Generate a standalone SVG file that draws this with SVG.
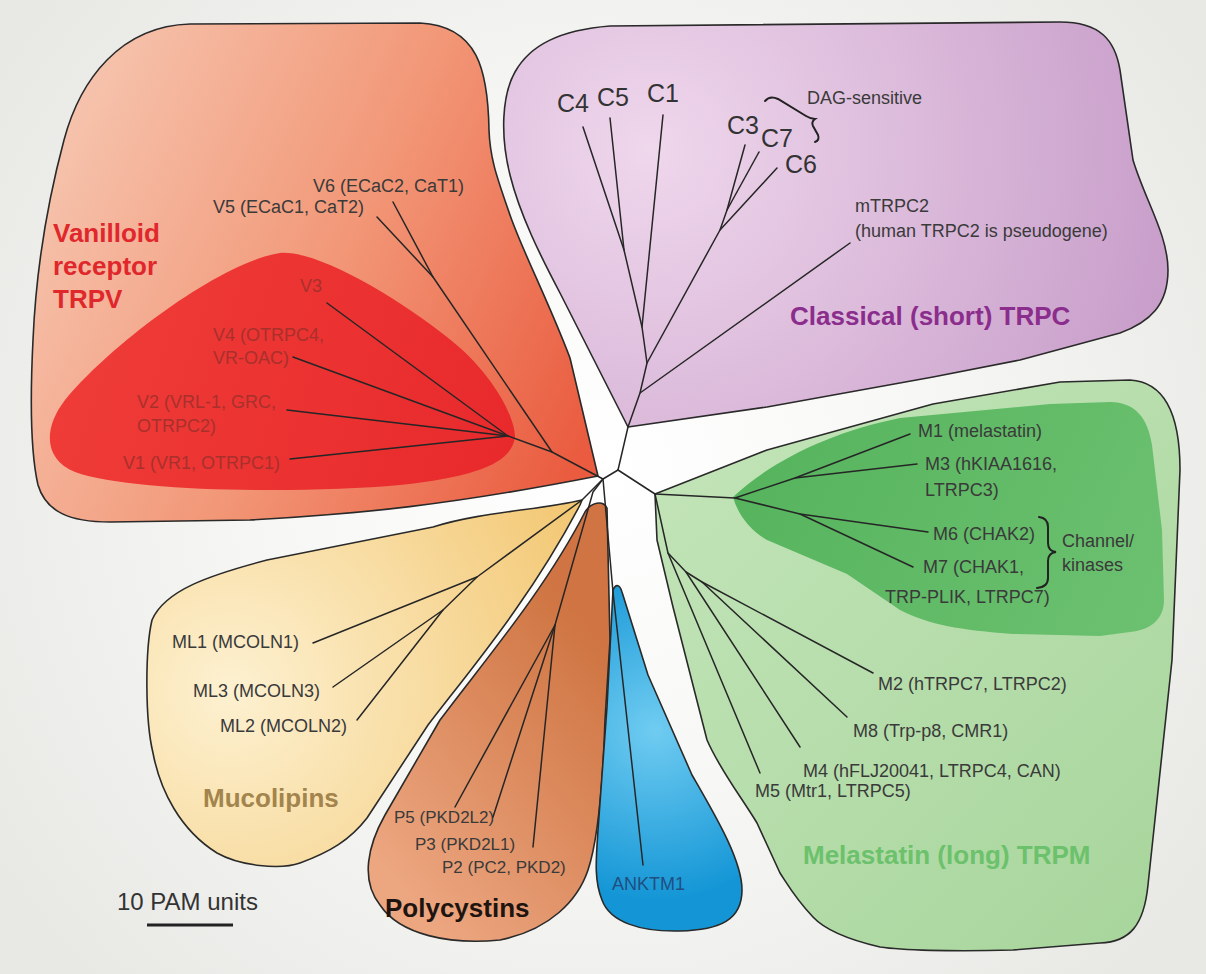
<svg xmlns="http://www.w3.org/2000/svg" width="1206" height="974" viewBox="0 0 1206 974">
<defs>
  <radialGradient id="bg" cx="600" cy="470" r="720" gradientUnits="userSpaceOnUse">
    <stop offset="0" stop-color="#ffffff"/>
    <stop offset="0.45" stop-color="#f7f7f5"/>
    <stop offset="1" stop-color="#e8e8e5"/>
  </radialGradient>
  <linearGradient id="gV" x1="40" y1="150" x2="600" y2="420" gradientUnits="userSpaceOnUse">
    <stop offset="0" stop-color="#f6c4ae"/>
    <stop offset="0.5" stop-color="#f29878"/>
    <stop offset="1" stop-color="#ea5b3f"/>
  </linearGradient>
  <linearGradient id="gVin" x1="60" y1="300" x2="520" y2="460" gradientUnits="userSpaceOnUse">
    <stop offset="0" stop-color="#ef3d38"/>
    <stop offset="1" stop-color="#e8292c"/>
  </linearGradient>
  <radialGradient id="gC" cx="650" cy="150" r="560" gradientUnits="userSpaceOnUse">
    <stop offset="0" stop-color="#efd7ec"/>
    <stop offset="1" stop-color="#c69bc8"/>
  </radialGradient>
  <linearGradient id="gM" x1="660" y1="400" x2="1180" y2="940" gradientUnits="userSpaceOnUse">
    <stop offset="0" stop-color="#c4e5ba"/>
    <stop offset="1" stop-color="#a7d59b"/>
  </linearGradient>
  <linearGradient id="gMin" x1="740" y1="420" x2="1160" y2="620" gradientUnits="userSpaceOnUse">
    <stop offset="0" stop-color="#55b35c"/>
    <stop offset="1" stop-color="#6cc170"/>
  </linearGradient>
  <radialGradient id="gML" cx="230" cy="690" r="420" gradientUnits="userSpaceOnUse">
    <stop offset="0" stop-color="#fdf1d1"/>
    <stop offset="1" stop-color="#f2c46c"/>
  </radialGradient>
  <linearGradient id="gP" x1="370" y1="850" x2="610" y2="650" gradientUnits="userSpaceOnUse">
    <stop offset="0" stop-color="#eca680"/>
    <stop offset="1" stop-color="#cf7442"/>
  </linearGradient>
  <radialGradient id="gA" cx="655" cy="730" r="170" gradientUnits="userSpaceOnUse">
    <stop offset="0" stop-color="#70ccf1"/>
    <stop offset="1" stop-color="#1496d6"/>
  </radialGradient>
</defs>
<style>
  .out{stroke:#2a2a2a;stroke-width:1.6;stroke-linejoin:round}
  .inner{stroke:none}
  .br{fill:none;stroke:#262626;stroke-width:1.5;stroke-linecap:round;stroke-linejoin:round}
  .brace{fill:none;stroke:#222;stroke-width:2;stroke-linecap:round}
  text{font-family:"Liberation Sans",Arial,Helvetica,sans-serif}
  .lb{font-size:18px;fill:#3a3a3a}
  .lbs{font-size:17px;fill:#3a3a3a}
  .lbr{font-size:18px;fill:#a8302c}
  .c{font-size:25px;fill:#333}
  .t{font-size:26px;font-weight:bold}
</style>
<rect x="0" y="0" width="1206" height="974" fill="url(#bg)"/>

<g id="trpv">
  <path class="out" fill="url(#gV)" d="M598,476 L570,358 C548,300 522,250 510,215 C498,180 490,160 489,130 C488,70 478,26 420,23 L190,24 C120,26 80,80 64,140 C48,200 36,270 33,340 C30,400 30,450 38,485 C46,512 70,522 110,522 L250,520 C360,514 450,505 598,476 Z"/>
  <path class="inner" fill="url(#gVin)" d="M280,253 C320,250 400,300 447,337 C490,370 515,415 515,437 C512,462 480,476 400,485 C300,494 130,492 75,472 C45,460 42,430 65,400 C110,345 220,262 280,253 Z"/>
  <text class="t" fill="#e0272c" x="53" y="242">Vanilloid</text>
  <text class="t" fill="#e0272c" x="53" y="275">receptor</text>
  <text class="t" fill="#e0272c" x="53" y="308">TRPV</text>
  <text class="lb" x="313" y="192">V6 (ECaC2, CaT1)</text>
  <text class="lb" x="213" y="213">V5 (ECaC1, CaT2)</text>
  <text class="lbr" x="300" y="292">V3</text>
  <text class="lbr" x="213" y="341">V4 (OTRPC4,</text>
  <text class="lbr" x="213" y="364">VR-OAC)</text>
  <text class="lbr" x="137" y="408">V2 (VRL-1, GRC,</text>
  <text class="lbr" x="137" y="432">OTRPC2)</text>
  <text class="lbr" x="123" y="469">V1 (VR1, OTRPC1)</text>
</g>

<g id="trpc">
  <path class="out" fill="url(#gC)" d="M628,427 L560,293 C540,255 520,215 510,175 C500,135 502,95 515,72 C530,45 560,30 610,26 L1060,22 C1100,22 1115,40 1120,70 L1133,160 C1145,200 1168,235 1168,270 C1168,305 1150,322 1120,333 L1020,360 L933,377 L767,407 Z"/>
  <text class="c" x="557" y="112">C4</text>
  <text class="c" x="597" y="106">C5</text>
  <text class="c" x="647" y="102">C1</text>
  <text class="c" x="727" y="134">C3</text>
  <text class="c" x="761" y="147">C7</text>
  <text class="c" x="785" y="173">C6</text>
  <path class="brace" d="M765,101 Q770,95 778,99 L806,116 Q811,119 815,119 Q811,122 813,126 L818,135 Q820,140 815,142"/>
  <text class="lb" x="807" y="104">DAG-sensitive</text>
  <text class="lb" x="855" y="212">mTRPC2</text>
  <text class="lb" x="855" y="237">(human TRPC2 is pseudogene)</text>
  <text class="t" fill="#8b2d8c" x="790" y="325">Classical (short) TRPC</text>
</g>

<g id="trpm">
  <path class="out" fill="url(#gM)" d="M655,494 L767,450 L933,404 L1060,382 L1130,380 C1165,382 1180,415 1180,470 L1172,660 L1148,885 C1144,925 1130,942 1100,943 L1013,950 C950,952 900,950 880,947 C850,940 825,930 813,917 C795,898 788,885 780,873 L757,823 C740,795 720,770 707,740 L673,607 L657,540 Z"/>
  <path class="inner" fill="url(#gMin)" d="M733,497 C770,462 830,432 900,418 L1050,404 L1110,402 C1135,402 1148,418 1152,445 L1162,530 L1164,600 C1164,618 1152,630 1130,632 L1100,636 L1013,634 C960,630 930,625 900,610 L847,574 L767,540 C750,530 738,515 733,497 Z"/>
  <text class="lb" x="918" y="437">M1 (melastatin)</text>
  <text class="lb" x="925" y="470">M3 (hKIAA1616,</text>
  <text class="lb" x="925" y="496">LTRPC3)</text>
  <text class="lb" x="933" y="540">M6 (CHAK2)</text>
  <text class="lb" x="923" y="573">M7 (CHAK1,</text>
  <text class="lb" x="885" y="603">TRP-PLIK, LTRPC7)</text>
  <path class="brace" d="M1039,517 Q1048,518 1048,527 L1048,543 Q1048,551 1056,552 Q1048,553 1048,561 L1048,578 Q1048,587 1037,588"/>
  <text class="lb" x="1062" y="547">Channel/</text>
  <text class="lb" x="1062" y="571">kinases</text>
  <text class="lb" x="878" y="690">M2 (hTRPC7, LTRPC2)</text>
  <text class="lb" x="853" y="737">M8 (Trp-p8, CMR1)</text>
  <text class="lb" x="803" y="777">M4 (hFLJ20041, LTRPC4, CAN)</text>
  <text class="lb" x="755" y="797">M5 (Mtr1, LTRPC5)</text>
  <text class="t" fill="#6cc16c" x="803" y="864">Melastatin (long) TRPM</text>
</g>

<g id="mucolipins">
  <path class="out" fill="url(#gML)" d="M582,500 C540,510 480,512 433,527 L267,560 C210,575 165,590 152,620 C145,650 145,720 153,753 C160,790 180,830 217,853 C240,866 280,870 300,863 C330,852 350,840 367,818 L428,725 C470,670 530,600 580,505 Z"/>
  <text class="lb" x="172" y="648">ML1 (MCOLN1)</text>
  <text class="lb" x="193" y="697">ML3 (MCOLN3)</text>
  <text class="lb" x="220" y="732">ML2 (MCOLN2)</text>
  <text class="t" fill="#a3844c" x="203" y="807">Mucolipins</text>
</g>

<g id="polycystins">
  <path class="out" fill="url(#gP)" d="M585,512 C591,502 603,500 607,508 L610,640 L605,720 C603,780 598,840 588,870 C578,900 550,930 500,940 C450,945 400,935 380,905 C360,880 368,845 385,815 L440,720 C485,660 545,590 585,512 Z"/>
  <text class="lbs" x="394" y="823">P5 (PKD2L2)</text>
  <text class="lbs" x="415" y="850">P3 (PKD2L1)</text>
  <text class="lbs" x="442" y="873">P2 (PC2, PKD2)</text>
  <text class="t" fill="#1e1410" x="385" y="917">Polycystins</text>
</g>

<g id="anktm1">
  <path class="out" fill="url(#gA)" d="M613,590 C616,583 620,585 622,592 L648,675 L692,775 C715,815 742,860 742,890 C742,920 720,930 680,931 C640,932 610,922 602,900 C594,880 596,860 598,830 L607,707 Z"/>
  <text x="612" y="890" style="font-size:18px;fill:#1f4f80">ANKTM1</text>
</g>

<g id="scale">
  <text x="117" y="910" style="font-size:24px;fill:#333">10 PAM units</text>
  <line x1="147" y1="925" x2="233" y2="925" stroke="#222" stroke-width="3"/>
</g>

<g id="connectors" class="br">
  <path d="M603,479 L618,470"/>
  <path d="M618,470 L628,427 L640,393 L647,363 L642,327 L624,250 L583,127"/>
  <path d="M624,250 L610,118"/>
  <path d="M642,327 L663,115"/>
  <path d="M647,363 L720,230 L727,210 L745,145"/>
  <path d="M727,210 L759,152"/>
  <path d="M720,230 L777,168"/>
  <path d="M640,393 L850,243"/>
  <path d="M618,470 L655,494 L735,498 L795,478 L910,434"/>
  <path d="M795,478 L917,464"/>
  <path d="M735,498 L800,514 L928,532"/>
  <path d="M800,514 L913,567"/>
  <path d="M655,494 L668,553 L760,773"/>
  <path d="M668,553 L686,572 L800,747"/>
  <path d="M686,572 L702,582 L873,673"/>
  <path d="M702,582 L847,717"/>
  <path d="M603,479 L552,452 L508,436"/>
  <path d="M552,452 L433,277 L393,202"/>
  <path d="M433,277 L377,217"/>
  <path d="M508,436 L327,303"/>
  <path d="M508,436 L293,357"/>
  <path d="M508,436 L287,410"/>
  <path d="M508,436 L290,459"/>
  <path d="M603,479 L582,500 L477,577 L313,643"/>
  <path d="M477,577 L443,610 L333,687"/>
  <path d="M443,610 L357,720"/>
  <path d="M603,479 L593,492 L555,625 L455,807"/>
  <path d="M555,625 L493,817"/>
  <path d="M555,625 L533,847"/>
  <path d="M603,479 L613,592 L643,865"/>
</g>
</svg>
